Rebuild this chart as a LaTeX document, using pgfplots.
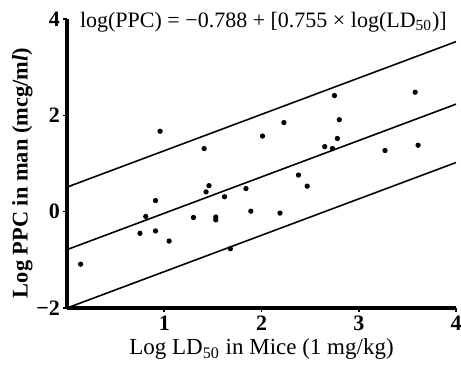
\documentclass[border=0pt]{standalone}
\usepackage{fontspec}
\setmainfont{Liberation Serif}
\usepackage{pgfplots}
\pgfplotsset{compat=1.18}
\begin{document}
\begin{tikzpicture}
\begin{axis}[
  scale only axis,
  width=194.5pt, height=144.5pt,
  xmin=0, xmax=4, ymin=-2, ymax=4,
  axis x line=bottom, axis y line=left,
  axis line style={-, line width=1.6pt},
  xtick={1,2,3,4}, xticklabels={1,2,3,4},
  ytick={-2,0,2,4}, yticklabels={−2,0,2,4},
  tick align=outside, major tick length=2pt,
  tick style={line width=0.8pt, black},
  ticklabel style={font=\bfseries\fontsize{11}{12}\selectfont},
  xticklabel style={yshift=1.5pt},
  yticklabel style={xshift=2pt},
  xlabel={Log LD\textsubscript{50} in Mice (1 mg/kg)},
  ylabel={\bfseries Log PPC in man (mcg/m\textit{l})},
  xlabel style={font=\fontsize{11.5}{13}\selectfont, yshift=3pt},
  ylabel style={font=\fontsize{11.2}{13}\selectfont, at={(ticklabel cs:0.467)}, yshift=-5pt},
  clip mode=individual,
]
\addplot[black, line width=0.8pt] coordinates {(0,-0.788) (4,2.232)};
\addplot[black, line width=0.8pt] coordinates {(0,0.51) (4,3.53)};
\addplot[black, line width=0.8pt] coordinates {(0,-2.0) (4,1.02)};
\addplot[only marks, mark=*, mark size=1.1pt, black] coordinates {
(0.14,-1.09) (0.957,1.67) (1.41,1.31) (1.46,0.54) (1.43,0.41) (0.91,0.23)
(1.62,0.31) (1.84,0.48) (1.89,0.01) (0.81,-0.10) (1.30,-0.12) (1.53,-0.11)
(1.53,-0.17) (0.75,-0.45) (0.91,-0.40) (1.05,-0.61) (1.68,-0.77)
(2.75,2.41) (3.58,2.48) (2.23,1.85) (2.80,1.91) (2.01,1.57) (2.78,1.52)
(2.65,1.35) (2.73,1.31) (3.27,1.27) (3.61,1.38) (2.38,0.76) (2.47,0.53)
(2.19,-0.03)
};
\node[anchor=west, font=\fontsize{11}{12}\selectfont, inner sep=0pt] at (axis cs:0.13,3.93) {log(PPC) = −0.788 + [0.755 × log(LD\textsubscript{50})]};
\end{axis}
\pgfresetboundingbox
\path[use as bounding box] ([xshift=-33.5pt,yshift=-28.5pt]current axis.south west) rectangle ([xshift=2.5pt,yshift=9.5pt]current axis.north east);
\end{tikzpicture}
\end{document}
